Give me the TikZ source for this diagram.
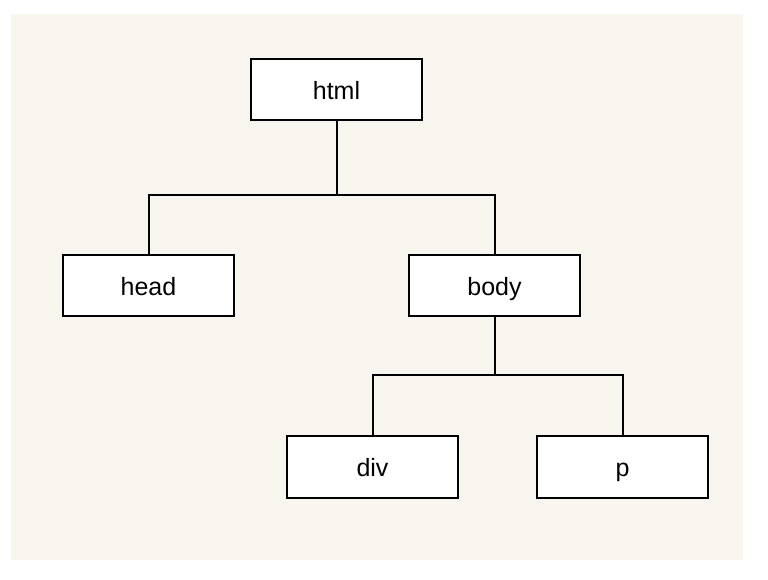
\documentclass[tikz,border=0pt]{standalone}
\usepackage{fontspec}
\setmainfont{Liberation Sans}
\definecolor{panel}{HTML}{F8F5EF}
\begin{document}
\begin{tikzpicture}[x=1pt,y=-1pt,
  box/.style={draw=black,line width=2pt,fill=white,minimum width=171pt,minimum height=61pt,inner sep=0pt,text height=21pt,text depth=2pt,font=\fontsize{25}{29}\selectfont},
  link/.style={draw=black,line width=2pt}]
\useasboundingbox (0,0) rectangle (768,579);
\fill[panel] (11,14) rectangle (743,560);
\node[box] (html) at (336.5,89.5) {html};
\node[box] (head) at (148.5,285.5) {head};
\node[box] (body) at (494.5,285.5) {body};
\node[box,minimum height=62pt] (div) at (372.5,466.5) {div};
\node[box,minimum height=62pt] (p) at (622.5,466.5) {p};
\coordinate (j1) at (336.5,195);
\coordinate (j2) at (494.5,375);
\draw[link] (html.south) -- (j1);
\draw[link] (head.north) |- (j1) -| (body.north);
\draw[link] (body.south) -- (j2);
\draw[link] (div.north) |- (j2) -| (p.north);
\end{tikzpicture}
\end{document}
